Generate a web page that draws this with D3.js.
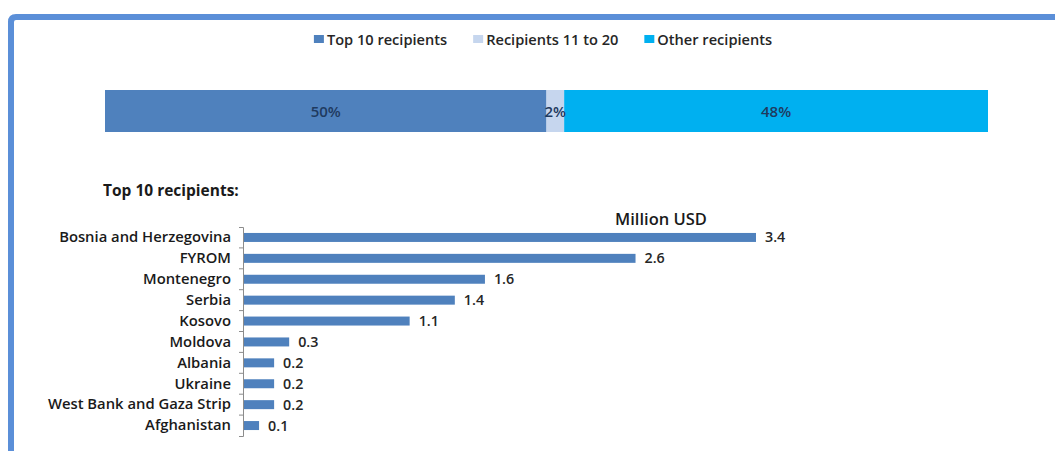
<!DOCTYPE html>
<html>
<head>
<meta charset="utf-8">
<script src="https://cdn.jsdelivr.net/npm/d3@7"></script>
<style>
  html, body { margin: 0; padding: 0; background: #fff; }
  svg { display: block; }
  text { font-family: "Open Sans", "Noto Sans", sans-serif; }
</style>
</head>
<body>
<svg id="chart" width="1055" height="451"></svg>
<script>
// Share of aid by recipient group (percent)
const groups = ["Top 10 recipients", "Recipients 11 to 20", "Other recipients"];
const shares = [50, 2, 48];
const groupColors = ["#4f81bd", "#c6d6ee", "#00b0f0"];

// Top 10 recipients, million USD
const countries = ["Bosnia and Herzegovina", "FYROM", "Montenegro", "Serbia", "Kosovo",
                   "Moldova", "Albania", "Ukraine", "West Bank and Gaza Strip", "Afghanistan"];
const amounts = [3.4, 2.6, 1.6, 1.4, 1.1, 0.3, 0.2, 0.2, 0.2, 0.1];

const svg = d3.select("#chart");

// frame
svg.append("path")
  .attr("d", "M11,451 V22 Q11,17 16,17 H1060")
  .attr("fill", "none")
  .attr("stroke", "#5b8fd8")
  .attr("stroke-width", 6);

// ---------- legend ----------
const legend = svg.append("g").attr("font-size", 14.6).attr("font-weight", 600).attr("fill", "#262626");
let lx = 0;
groups.forEach((g, i) => {
  const it = legend.append("g");
  it.append("rect").attr("x", 0).attr("y", -5).attr("width", 10).attr("height", 8).attr("fill", groupColors[i]);
  const t = it.append("text").attr("x", 13).attr("y", 5).text(g);
  const w = 13 + t.node().getComputedTextLength();
  it.attr("transform", `translate(${lx},40)`);
  lx += w + 26;
});
const legendW = lx - 26;
legend.attr("transform", `translate(${543 - legendW / 2},0)`);

// ---------- stacked share bar ----------
const xShare = d3.scaleLinear().domain([0, d3.sum(shares)]).range([105, 988]);
const cum = d3.cumsum(shares);
const segs = shares.map((v, i) => ({ v, x0: i ? cum[i - 1] : 0, x1: cum[i], c: groupColors[i] }));

svg.append("g").selectAll("rect").data(segs).join("rect")
  .attr("x", d => xShare(d.x0))
  .attr("width", d => xShare(d.x1) - xShare(d.x0))
  .attr("y", 90).attr("height", 42)
  .attr("fill", d => d.c);

svg.append("g").selectAll("text").data(segs).join("text")
  .attr("x", d => (xShare(d.x0) + xShare(d.x1)) / 2)
  .attr("y", 117)
  .attr("text-anchor", "middle")
  .attr("font-size", 15)
  .attr("font-weight", 600)
  .attr("fill", "#1f3a5f")
  .text(d => d.v + "%");

// ---------- top 10 bars ----------
svg.append("text")
  .attr("x", 103).attr("y", 196)
  .attr("font-size", 15.5).attr("font-weight", 700).attr("fill", "#1a1a1a")
  .text("Top 10 recipients:");

const x = d3.scaleLinear().domain([0, 3.4]).range([244, 756]);
const y = d3.scaleBand().domain(countries).range([227, 436]).paddingInner(0.57).paddingOuter(0.285);

svg.append("text")
  .attr("x", 661).attr("y", 225)
  .attr("text-anchor", "middle")
  .attr("font-size", 16.5).attr("font-weight", 600).attr("fill", "#1a1a1a")
  .text("Million USD");

svg.append("g").selectAll("rect").data(countries).join("rect")
  .attr("x", x(0))
  .attr("y", d => y(d))
  .attr("height", y.bandwidth())
  .attr("width", (d, i) => x(amounts[i]) - x(0))
  .attr("fill", "#4f81bd");

svg.append("g").selectAll("text").data(countries).join("text")
  .attr("x", (d, i) => x(amounts[i]) + 9)
  .attr("y", d => y(d) + y.bandwidth() / 2 + 5)
  .attr("font-size", 14.3).attr("font-weight", 600).attr("fill", "#262626")
  .text((d, i) => d3.format(".1f")(amounts[i]));

const axis = svg.append("g")
  .attr("transform", `translate(${x(0) - 1},0)`)
  .call(d3.axisLeft(y).tickSize(0).tickSizeOuter(4).tickPadding(12));
axis.select(".domain").attr("stroke", "#8c8c8c");
axis.selectAll("text")
  .attr("font-family", "'Open Sans', 'Noto Sans', sans-serif")
  .attr("font-size", 14.8).attr("font-weight", 600).attr("fill", "#1a1a1a");

// boundary ticks between categories
const [r0] = y.range();
axis.append("g").selectAll("line").data(d3.range(1, countries.length)).join("line")
  .attr("x1", -4).attr("x2", 0)
  .attr("y1", i => r0 + i * y.step())
  .attr("y2", i => r0 + i * y.step())
  .attr("stroke", "#8c8c8c");
</script>
</body>
</html>
